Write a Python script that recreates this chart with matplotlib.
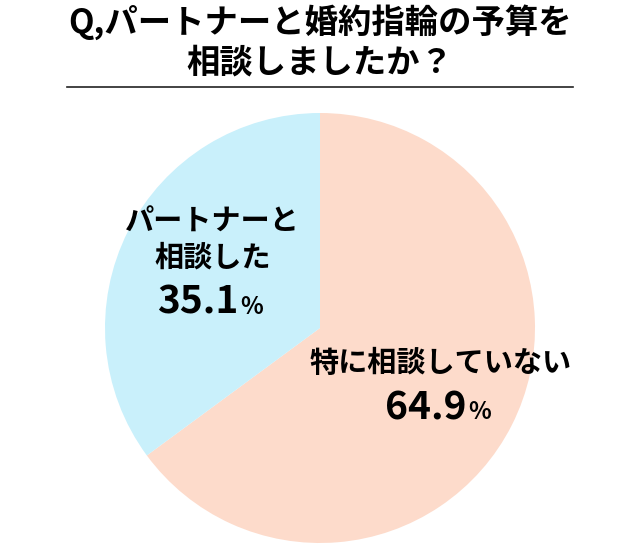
import numpy as np
import matplotlib.pyplot as plt

plt.rcParams['font.family'] = ['Noto Sans CJK JP', 'DejaVu Sans']

title_lines = ['Q,パートナーと婚約指輪の予算を', '相談しましたか？']
labels = ['特に相談していない', 'パートナーと\n相談した']
values = [64.9, 35.1]
colors = ['#fddbcb', '#c9f0fb']

fig = plt.figure(figsize=(6.4, 5.6), dpi=100)

# title and rule
fig.text(0.5, 1 - 22 / 560, title_lines[0], ha='center', va='center',
         fontsize=24, fontweight='bold')
fig.text(0.5, 1 - 63 / 560, title_lines[1], ha='center', va='center',
         fontsize=24, fontweight='bold')
fig.add_artist(plt.Line2D([67 / 640, 573 / 640], [1 - 87 / 560, 1 - 87 / 560],
                          color='#222222', lw=1.2))

ax = fig.add_axes([105 / 640, 17 / 560, 430 / 640, 430 / 560])
wedges, _ = ax.pie(values, colors=colors, startangle=90, counterclock=False,
                   radius=1, wedgeprops=dict(linewidth=0))
ax.set_xlim(-1, 1)
ax.set_ylim(-1, 1)
ax.set_aspect('equal')

# small nudges from the wedge-middle anchor, per wedge
nudges = [(0.024, 0.037), (0.036, -0.014)]

for w, lab, v, (dx, dy) in zip(wedges, labels, values, nudges):
    mid = np.deg2rad((w.theta1 + w.theta2) / 2)
    x, y = 0.6 * np.cos(mid) + dx, 0.6 * np.sin(mid) + dy
    ax.text(x, y, lab, ha='center', va='bottom', fontsize=21,
            fontweight='bold', linespacing=1.25)
    ax.text(x + 0.12, y - 0.19, f'{v}', ha='right', va='baseline',
            fontsize=28, fontweight='bold')
    ax.text(x + 0.13, y - 0.19, '%', ha='left', va='baseline',
            fontsize=17, fontweight='bold')

fig.savefig('out.png', dpi=100)
